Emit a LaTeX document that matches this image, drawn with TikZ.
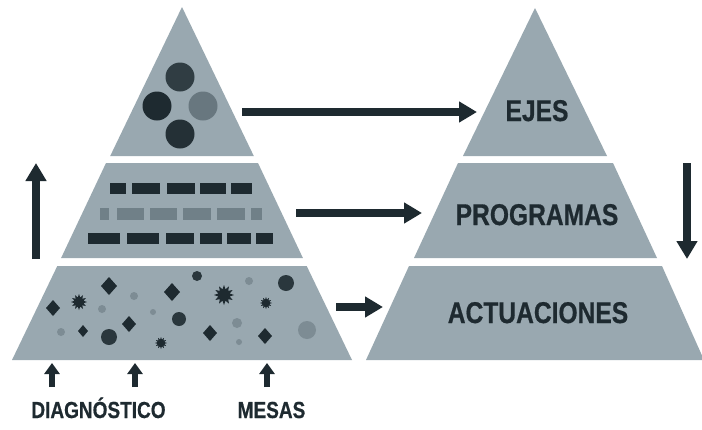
\documentclass[tikz,border=0pt]{standalone}
\usepackage{fontspec}
\newfontfamily\tagfont[FakeStretch=0.82,FakeBold=0.6]{Liberation Sans}
\usetikzlibrary{arrows.meta,shapes.geometric}
\definecolor{slate}{RGB}{153,168,176}
\definecolor{ink}{RGB}{30,42,48}
\definecolor{dim}{RGB}{112,128,136}
\definecolor{soft}{RGB}{125,140,148}
\begin{document}
\begin{tikzpicture}
            [x=0.5pt, y=-0.5pt,
            piece/.style={fill=slate},
            tag/.style={inner sep=0, anchor=base, text=ink, font=\tagfont\bfseries\fontsize{15pt}{15pt}\selectfont},
            foot/.style={inner sep=0, anchor=base, text=ink, font=\tagfont\bfseries\fontsize{11.6pt}{11.6pt}\selectfont},
            flow/.style={ink, line width=4pt, -{Triangle[length=9pt,width=10pt]}},
            push/.style={ink, line width=3pt, -{Triangle[length=5.5pt,width=7.5pt]}},
            spark/.style={star, star points=12, star point ratio=1.7, fill=ink, inner sep=0}]

            \fill[white] (0,0) rectangle (702,429);
            \useasboundingbox (0,0) rectangle (702,429);

            % left pyramid
            \fill[piece] (182,7) -- (253.8,156) -- (110.2,156) -- cycle;
            \fill[piece] (106,163) -- (258,163) -- (302.9,258) -- (61.1,258) -- cycle;
            \fill[piece] (57.3,266) -- (306.7,266) -- (352,360) -- (12,360) -- cycle;

            % right pyramid
            \fill[piece] (535,8) -- (607,156) -- (463,156) -- cycle;
            \fill[piece] (458,163) -- (613,163) -- (657,258) -- (414,258) -- cycle;
            \fill[piece] (409,266) -- (662,266) -- (704,360) -- (366,360) -- cycle;

            % circles on top
            \fill[ink!85!slate] (180,77) circle (14.5);
            \fill[ink] (157,106) circle (14.5);
            \fill[dim!90!ink] (203,106) circle (14.5);
            \fill[ink!95!slate] (180,134) circle (14.5);

            % bars in the middle
            \foreach \a/\b in {110/126, 132/160, 167/195, 200/226, 231/252}
                \fill[ink] (\a,183) rectangle (\b,194);
            \foreach \a/\b in {100/109, 117/144, 150/177, 183/211, 217/245, 251/262}
                \fill[dim] (\a,208) rectangle (\b,220);
            \foreach \a/\b in {88/120, 127/159, 166/194, 200/222, 227/251, 256/273}
                \fill[ink] (\a,233) rectangle (\b,244);

            % scattered bits at the bottom
            \foreach \x/\y/\s in {109/286/8, 172/292/8, 53/308/7, 129/324/7, 83/331/5, 210/333/7, 265/336/7}
                \fill[ink] (\x,\y-\s-1) -- (\x+\s,\y) -- (\x,\y+\s+1) -- (\x-\s,\y) -- cycle;
            \foreach \x/\y/\r in {197/276/5, 286/283/8, 179/319/7, 109/337/8}
                \fill[ink!90!slate] (\x,\y) circle (\r);
            \foreach \x/\y/\r in {134/296/4, 102/309/4, 153/312/3, 61/332/4, 249/281/4, 237/323/5, 239/342/3, 307/330/9}
                \fill[soft] (\x,\y) circle (\r);
            \foreach \x/\y/\r in {79/302/8, 161/343/6, 224/295/10, 266/303/6}
                \node[spark, minimum size=\r pt] at (\x,\y) {};

            % labels
            \node[tag] (ejes) at (537,121) {EJES};
            \node[tag] (prog) at (537,225) {PROGRAMAS};
            \node[tag] (actu) at (538,323) {ACTUACIONES};
            \node[foot] (diag) at (98.5,418) {DIAGNÓSTICO};
            \node[foot] (mesas) at (271.5,418) {MESAS};

            % arrows
            \coordinate (topout) at (242,112);
            \coordinate (topin) at (477,112);
            \coordinate (midout) at (296,213);
            \coordinate (midin) at (422,213);
            \coordinate (lowout) at (336,307);
            \coordinate (lowin) at (383,307);
            \draw[flow] (topout) -- (topin);
            \draw[flow] (midout) -- (midin);
            \draw[flow] (lowout) -- (lowin);

            \coordinate (upfrom) at (36,259);
            \coordinate (upto) at (36,163);
            \coordinate (downfrom) at (687,163);
            \coordinate (downto) at (687,259);
            \draw[flow] (upfrom) -- (upto);
            \draw[flow] (downfrom) -- (downto);

            \foreach \x in {52, 135, 267}
                \draw[push] (\x,387) -- (\x,363);

        \end{tikzpicture}
\end{document}
